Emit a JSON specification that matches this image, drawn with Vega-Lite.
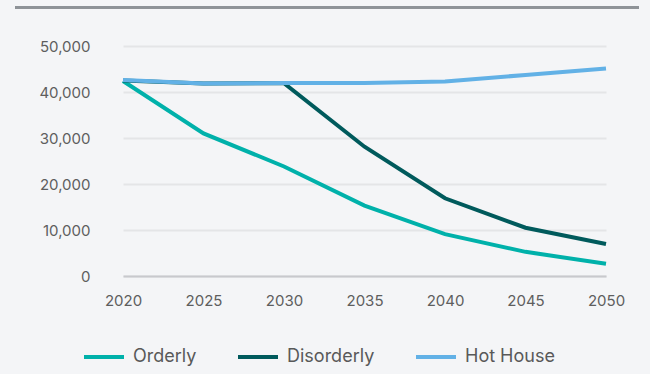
{
  "$schema": "https://vega.github.io/schema/vega-lite/v6.json",
  "autosize": "none",
  "width": 483,
  "height": 230,
  "padding": {"left": 123, "top": 46, "right": 44, "bottom": 98},
  "background": "#f4f5f7",
  "config": {
    "font": "Inter",
    "view": {"stroke": null},
    "axis": {"labelFont": "Inter", "labelColor": "#5e5e5e", "labelFontSize": 15, "ticks": false, "title": null}
  },
  "data": {
    "values": [
      {"year": 2020, "scenario": "Orderly", "value": 42400},
      {"year": 2025, "scenario": "Orderly", "value": 31000},
      {"year": 2030, "scenario": "Orderly", "value": 23800},
      {"year": 2035, "scenario": "Orderly", "value": 15300},
      {"year": 2040, "scenario": "Orderly", "value": 9100},
      {"year": 2045, "scenario": "Orderly", "value": 5250},
      {"year": 2050, "scenario": "Orderly", "value": 2650},
      {"year": 2020, "scenario": "Disorderly", "value": 42500},
      {"year": 2025, "scenario": "Disorderly", "value": 41850},
      {"year": 2030, "scenario": "Disorderly", "value": 41900},
      {"year": 2035, "scenario": "Disorderly", "value": 28100},
      {"year": 2040, "scenario": "Disorderly", "value": 16900},
      {"year": 2045, "scenario": "Disorderly", "value": 10500},
      {"year": 2050, "scenario": "Disorderly", "value": 6950},
      {"year": 2020, "scenario": "Hot House", "value": 42600},
      {"year": 2025, "scenario": "Hot House", "value": 41850},
      {"year": 2030, "scenario": "Hot House", "value": 41950},
      {"year": 2035, "scenario": "Hot House", "value": 41950},
      {"year": 2040, "scenario": "Hot House", "value": 42300},
      {"year": 2045, "scenario": "Hot House", "value": 43700},
      {"year": 2050, "scenario": "Hot House", "value": 45100}
    ]
  },
  "layer": [
    {
      "mark": {"type": "line", "strokeWidth": 4},
      "encoding": {
        "x": {
          "field": "year",
          "type": "quantitative",
          "scale": {"domain": [2020, 2050], "nice": false, "zero": false},
          "axis": {
            "values": [2020, 2025, 2030, 2035, 2040, 2045, 2050],
            "format": "d",
            "grid": false,
            "domain": true,
            "domainColor": "#c8c9cd",
            "domainWidth": 2,
            "labelPadding": 17,
            "labelFlush": false
          }
        },
        "y": {
          "field": "value",
          "type": "quantitative",
          "scale": {"domain": [0, 50000], "nice": false},
          "axis": {
            "values": [0, 10000, 20000, 30000, 40000, 50000],
            "format": ",d",
            "domain": false,
            "grid": true,
            "gridColor": "#e4e5e7",
            "gridWidth": 2,
            "labelPadding": 33
          }
        },
        "color": {
          "field": "scenario",
          "type": "nominal",
          "sort": ["Orderly", "Disorderly", "Hot House"],
          "scale": {"domain": ["Orderly", "Disorderly", "Hot House"], "range": ["#00b1aa", "#005a5c", "#62b1e6"]},
          "legend": {
            "title": null,
            "orient": "none",
            "direction": "horizontal",
            "legendX": -41,
            "legendY": 289,
            "symbolType": "stroke",
            "symbolSize": 1600,
            "symbolStrokeWidth": 4,
            "labelFont": "Inter",
            "labelFontSize": 18,
            "labelColor": "#595959",
            "labelOffset": 7,
            "columnPadding": 33,
            "gridAlign": "none",
            "padding": 0
          }
        }
      }
    },
    {
      "mark": {"type": "rule", "color": "#8e9398", "strokeWidth": 2},
      "encoding": {
        "x": {
          "datum": 2013.3,
          "type": "quantitative",
          "axis": {
            "values": [2020, 2025, 2030, 2035, 2040, 2045, 2050],
            "format": "d",
            "grid": false,
            "domain": true,
            "domainColor": "#c8c9cd",
            "domainWidth": 2,
            "labelPadding": 17,
            "labelFlush": false
          }
        },
        "x2": {"datum": 2052.05},
        "y": {
          "datum": 58400,
          "type": "quantitative",
          "axis": {
            "values": [0, 10000, 20000, 30000, 40000, 50000],
            "format": ",d",
            "domain": false,
            "grid": true,
            "gridColor": "#e4e5e7",
            "gridWidth": 2,
            "labelPadding": 33
          }
        }
      }
    }
  ]
}
